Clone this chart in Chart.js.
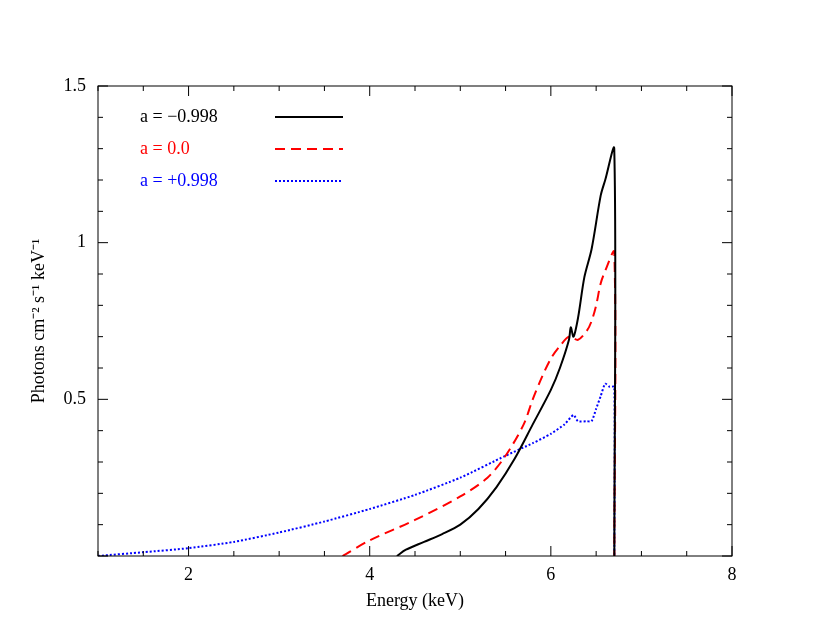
<!DOCTYPE html>
<html><head><script src="https://cdn.jsdelivr.net/npm/chart.js@4"></script>
<style>body{margin:0;background:#fff}</style></head><body>
<canvas id="c" width="830" height="642"></canvas>
<script>
const blackX=[4.3,4.4,4.6,4.8,5.0,5.2,5.4,5.6,5.8,6.0,6.1,6.2,6.22,6.25,6.3,6.37,6.45,6.55,6.6,6.7,6.701];
const blackY=[0,0.02,0.045,0.07,0.1,0.15,0.22,0.31,0.42,0.53,0.6,0.69,0.73,0.70,0.76,0.89,0.98,1.15,1.2,1.3,0];
const redX=[3.7,4.0,4.5,5.0,5.3,5.5,5.7,5.8,5.9,6.0,6.1,6.2,6.3,6.4,6.45,6.5,6.55,6.6,6.7,6.701];
const redY=[0,0.05,0.115,0.19,0.25,0.32,0.42,0.5,0.57,0.63,0.67,0.70,0.69,0.72,0.75,0.80,0.87,0.91,0.97,0];
const blueX=[1.0,1.5,2.0,2.5,3.0,3.5,4.0,4.5,5.0,5.5,5.8,6.0,6.15,6.25,6.3,6.4,6.45,6.5,6.55,6.6,6.65,6.7,6.701];
const blueY=[0,0.012,0.025,0.045,0.075,0.11,0.15,0.195,0.25,0.32,0.36,0.39,0.42,0.45,0.43,0.43,0.43,0.47,0.51,0.55,0.54,0.54,0];
const labels=['a = \u22120.998','a = 0.0','a = +0.998'];
const pts=(xs,ys)=>xs.map((x,i)=>({x,y:ys[i]}));
const serif='"Liberation Serif", serif';
const deco={id:'deco',afterDraw(ch){
 const c=ch.ctx,a=ch.chartArea,xs=ch.scales.x,ys=ch.scales.y;
 c.save();c.strokeStyle='#000';c.lineWidth=1;
 c.strokeRect(a.left,a.top,a.right-a.left,a.bottom-a.top);
 c.beginPath();
 for(let v=1;v<=8.001;v+=0.5){const p=xs.getPixelForValue(v);const L=Math.abs(v-Math.round(v))<1e-6&&Math.round(v)%2==0?10:5;
  c.moveTo(p,a.bottom);c.lineTo(p,a.bottom-L);c.moveTo(p,a.top);c.lineTo(p,a.top+L);}
 for(let v=0;v<=1.5001;v+=0.1){const p=ys.getPixelForValue(v);const L=Math.abs(v*2-Math.round(v*2))<1e-6?10:5;
  c.moveTo(a.left,p);c.lineTo(a.left+L,p);c.moveTo(a.right,p);c.lineTo(a.right-L,p);}
 c.stroke();
 c.font='18px '+serif;c.textBaseline='middle';
 ch.data.datasets.forEach((d,i)=>{const y=117+i*32;c.fillStyle=d.borderColor;c.fillText(labels[i],140,y);
  c.strokeStyle=d.borderColor;c.lineWidth=d.borderWidth;c.setLineDash(d.borderDash||[]);
  c.beginPath();c.moveTo(275,y);c.lineTo(343,y);c.stroke();});
 c.restore();}};
new Chart(document.getElementById('c'),{type:'line',
 data:{datasets:[
  {data:pts(blackX,blackY),borderColor:'#000',borderWidth:2,pointRadius:0,tension:0.3},
  {data:pts(redX,redY),borderColor:'#ff0000',borderWidth:2,borderDash:[10,6],pointRadius:0,tension:0.3},
  {data:pts(blueX,blueY),borderColor:'#0000ff',borderWidth:2,borderDash:[2,2],pointRadius:0,tension:0.2}]},
 options:{responsive:false,animation:false,layout:{padding:{top:86,right:98,left:28,bottom:30}},
  plugins:{legend:{display:false},tooltip:{enabled:false}},
  scales:{
   x:{type:'linear',min:1,max:8,grid:{display:false,drawTicks:false},border:{display:false},
    ticks:{stepSize:1,color:'#000',font:{family:serif,size:18},padding:8,callback:v=>v%2==0?v:''},
    title:{display:true,text:'Energy (keV)',color:'#000',font:{family:serif,size:18},padding:0},
    afterFit:s=>{s.height=56;}},
   y:{type:'linear',min:0,max:1.5,grid:{display:false,drawTicks:false},border:{display:false},
    ticks:{stepSize:0.5,color:'#000',font:{family:serif,size:18},padding:12,callback:v=>v==0?'':v},
    title:{display:true,text:'Photons cm\u207B\u00B2 s\u207B\u00B9 keV\u207B\u00B9',color:'#000',font:{family:serif,size:18},padding:0},
    afterFit:s=>{s.width=70;}}}},
 plugins:[deco]});
</script></body></html>
